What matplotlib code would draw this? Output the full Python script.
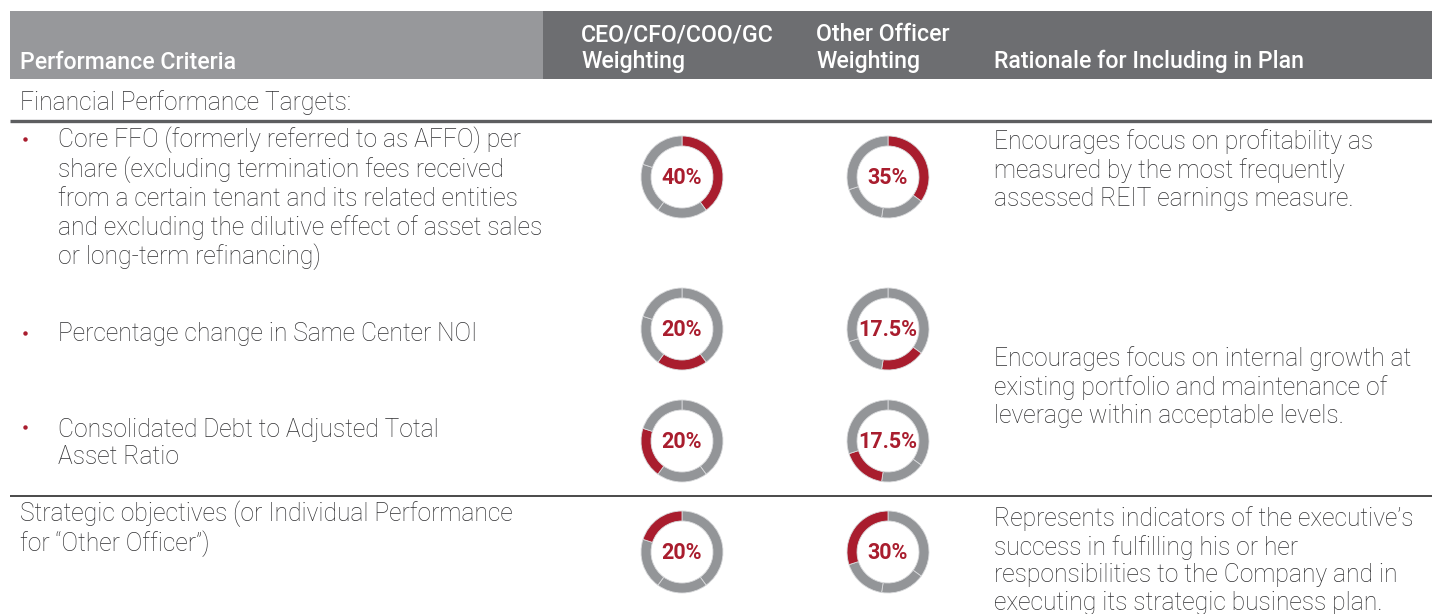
import matplotlib
matplotlib.use("Agg")
import matplotlib.pyplot as plt
from matplotlib.patches import Rectangle

# ---------------- data ----------------
header_labels = ["Performance Criteria", "CEO/CFO/COO/GC\nWeighting",
                 "Other Officer\nWeighting", "Rationale for Including in Plan"]
section_label = "Financial Performance Targets:"
criteria = [
    "Core FFO (formerly referred to as AFFO) per\nshare (excluding termination fees received\nfrom a certain tenant and its related entities\nand excluding the dilutive effect of asset sales\nor long-term refinancing)",
    "Percentage change in Same Center NOI",
    "Consolidated Debt to Adjusted Total\nAsset Ratio",
    "Strategic objectives (or Individual Performance\nfor \u201cOther Officer\u201d)",
]
ceo_weights = [40, 20, 20, 20]
other_weights = [35, 17.5, 17.5, 30]
rationales = [
    "Encourages focus on profitability as\nmeasured by the most frequently\nassessed REIT earnings measure.",
    "Encourages focus on internal growth at\nexisting portfolio and maintenance of\nleverage within acceptable levels.",
    "Represents indicators of the executive\u2019s\nsuccess in fulfilling his or her\nresponsibilities to the Company and in\nexecuting its strategic business plan.",
]

# ---------------- style ----------------
W, H = 1432, 614
RED = "#a91d2e"
RING = "#939598"
HDR_L = "#97989b"
HDR_D = "#6d6e71"
TXT = "#2f2f31"
FONT = ["Roboto", "DejaVu Sans"]
BODY = 17.7
LS = 1.194
PITCH = 29.3      # body line pitch in px
HLS = 1.21
HPITCH = 28.0     # header line pitch in px

fig = plt.figure(figsize=(W / 100, H / 100), dpi=100)
ax = fig.add_axes([0, 0, 1, 1])

def Y(y):
    return H - y

def put(x, first_base, txt, pitch, **kw):
    # va='baseline' anchors the last line; shift by the number of lines
    n = txt.count("\n")
    ax.text(x, Y(first_base + n * pitch), txt, va="baseline", ha="left", **kw)

# header
ax.add_patch(Rectangle((10, Y(79)), 533, 68, facecolor=HDR_L, edgecolor="none"))
ax.add_patch(Rectangle((543, Y(79)), W - 543, 68, facecolor=HDR_D, edgecolor="none"))
hdr_kw = dict(color="white", family=FONT, fontweight="medium", fontsize=16.7,
              linespacing=HLS)
put(20, 69, header_labels[0], HPITCH, **hdr_kw)
put(581, 40, header_labels[1], HPITCH, **hdr_kw)
put(816, 40, header_labels[2], HPITCH, **hdr_kw)
put(994, 68, header_labels[3], HPITCH, **hdr_kw)

body_kw = dict(color=TXT, family=FONT, fontweight="light", fontsize=BODY,
               linespacing=LS)

put(20, 110, section_label, PITCH, **body_kw)
ax.plot([10, W], [Y(121), Y(121)], color="#5d5e60", lw=2.4, solid_capstyle="butt")
ax.plot([10, W], [Y(496), Y(496)], color="#3a3a3a", lw=1.3, solid_capstyle="butt")

# criteria text
crit_base = [147, 341, 435]
for txt, base in zip(criteria[:3], crit_base):
    put(58, base, txt, PITCH, **body_kw)
    ax.plot(25, Y(base - 8), marker="o", ms=3.2, color=RED, mec="none")
put(20, 522, criteria[3], PITCH, **body_kw)

# rationale text
rat_base = [147, 364, 522]
for txt, base in zip(rationales, rat_base):
    put(994, base, txt, PITCH, **body_kw)

# donuts
row_y = [177, 329, 441, 552]
col_x = [682, 888]
for cx, weights in zip(col_x, [ceo_weights, other_weights]):
    for i, cy in enumerate(row_y):
        cols = [RED if j == i else RING for j in range(len(weights))]
        ax.pie(weights, colors=cols, startangle=90, counterclock=False,
               radius=41, center=(cx, Y(cy)),
               wedgeprops=dict(width=10, edgecolor="#d8d9db", linewidth=0.6))
        ax.text(cx, Y(cy + 1), f"{weights[i]:g}%", color=RED, family=FONT,
                fontweight="bold", fontsize=15.5, ha="center", va="center")

ax.set_xlim(0, W)
ax.set_ylim(0, H)
ax.set_aspect("auto")
ax.axis("off")
fig.savefig("out.png", dpi=100, facecolor="white")
